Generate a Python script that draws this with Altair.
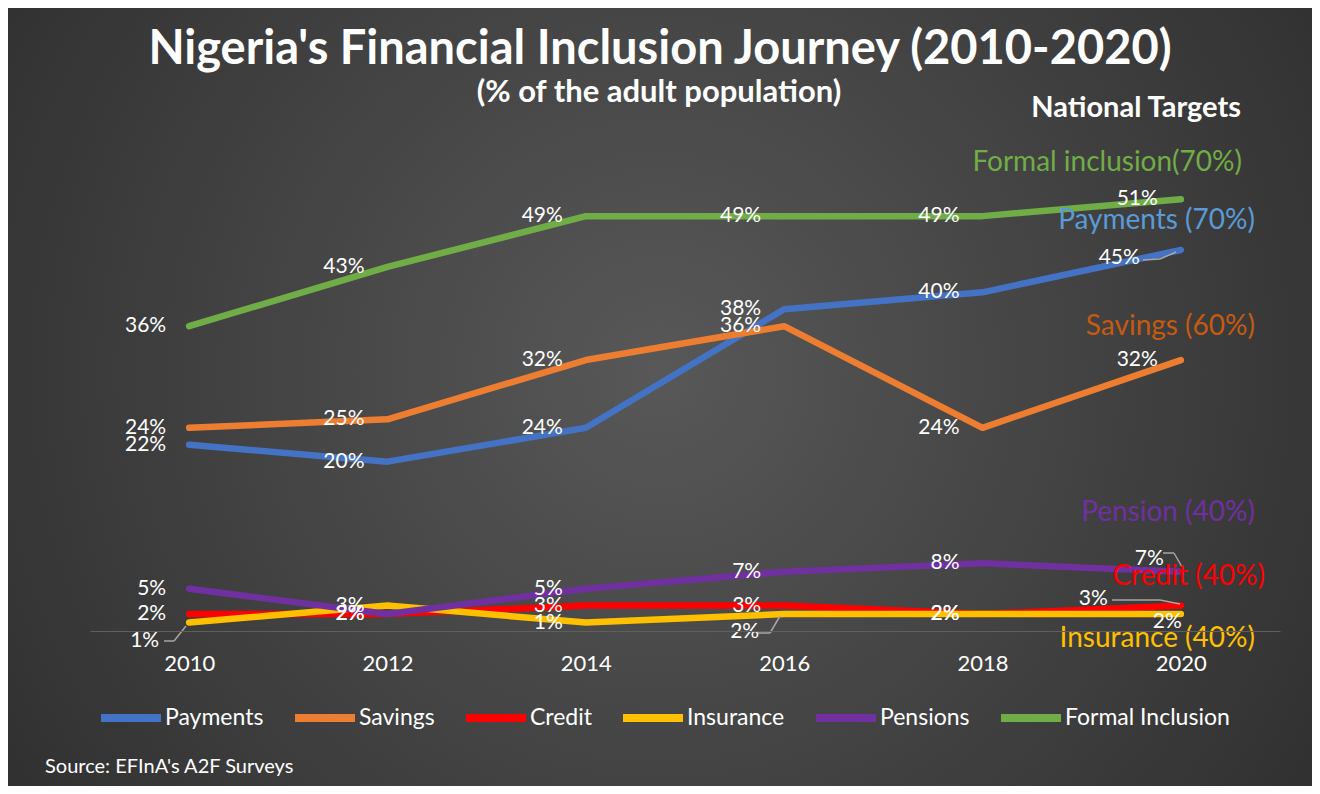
import altair as alt
import pandas as pd

# ---------------- data ----------------
years = [2010, 2012, 2014, 2016, 2018, 2020]
series = ["Payments", "Savings", "Credit", "Insurance", "Pensions", "Formal Inclusion"]
payments = [22, 20, 24, 38, 40, 45]
savings = [24, 25, 32, 36, 24, 32]
credit = [2, 2, 3, 3, 2, 3]
insurance = [1, 3, 1, 2, 2, 2]
pensions = [5, 2, 5, 7, 8, 7]
formal = [36, 43, 49, 49, 49, 51]
values = [payments, savings, credit, insurance, pensions, formal]

colors = ["#4472C4", "#ED7D31", "#FF0000", "#FFC000", "#7030A0", "#70AD47"]

target_texts = ["Formal inclusion(70%)", "Payments (70%)", "Savings (60%)",
                "Pension (40%)", "Credit (40%)", "Insurance (40%)"]
target_colors = ["#70AD47", "#5B9BD5", "#C55A11", "#7030A0", "#FF0000", "#FFC000"]

title_text = "Nigeria's Financial Inclusion Journey (2010-2020)"
subtitle_text = "(% of the adult population)"
targets_heading = "National Targets"
source_text = "Source: EFInA's A2F Surveys"

# label placement (pixel offsets from point), default left of point
DEFAULT_OFF = (-23, 0)
special_off = {
    ("Insurance", 2010): (-30, 18),
    ("Insurance", 2016): (-25, 18),
    ("Pensions", 2020): (-17, -13),
    ("Credit", 2020): (-73, -7),
    ("Insurance", 2020): (1, 8),
    ("Payments", 2020): (-41, 8),
}

FONT = "Lato"
W, H = 1190, 508          # plot area
PAD_L, PAD_T = 82, 115
TOTAL_W, TOTAL_H = 1304, 778

rows = []
for s, vals in zip(series, values):
    for y, v in zip(years, vals):
        dx, dy = special_off.get((s, y), DEFAULT_OFF)
        rows.append({"year": y, "series": s, "value": v, "label": f"{v}%", "dx": dx, "dy": dy})
df = pd.DataFrame(rows)


def px(xr):
    return xr - 8 - PAD_L


def py(yr):
    return yr - 8 - PAD_T


one = pd.DataFrame({"k": [0]})

# background gradient
bg = alt.Chart(one).mark_rect(
    fill={"gradient": "radial",
          "stops": [{"offset": 0, "color": "#585858"}, {"offset": 1, "color": "#262626"}],
          "x1": 0.5, "y1": 0.48, "r1": 0, "x2": 0.5, "y2": 0.48, "r2": 0.75}
).encode(x=alt.value(-PAD_L), x2=alt.value(TOTAL_W - PAD_L),
         y=alt.value(-PAD_T), y2=alt.value(TOTAL_H - PAD_T))

xenc = alt.X("year:O", scale=alt.Scale(type="point", padding=0.5),
             axis=alt.Axis(title=None, labelAngle=0, ticks=False, grid=False,
                           domainColor="#5f5f5f", domainWidth=1,
                           labelColor="white", labelFont=FONT, labelFontSize=22,
                           labelPadding=22, zindex=1))
yenc = alt.Y("value:Q", scale=alt.Scale(domain=[0, 60], nice=False), axis=None)
cenc = alt.Color("series:N", scale=alt.Scale(domain=series, range=colors),
                 legend=alt.Legend(orient="none", legendX=7, legendY=561,
                                   direction="horizontal", title=None,
                                   symbolType="stroke", symbolSize=3600,
                                   symbolStrokeWidth=8, labelColor="white",
                                   labelFont=FONT, labelFontSize=23, labelLimit=400,
                                   labelOffset=0, columnPadding=15, zindex=1))

line_layers = []
for s in series:
    line_layers.append(
        alt.Chart(df[df.series == s]).mark_line(strokeWidth=6.5, strokeCap="round", strokeJoin="round")
        .encode(x=xenc, y=yenc, color=cenc)
    )

label_layers = []
for (dx, dy), sub in df.groupby(["dx", "dy"]):
    label_layers.append(
        alt.Chart(sub).mark_text(align="right", baseline="middle", dx=int(dx), dy=int(dy),
                                 font=FONT, fontSize=21, color="white")
        .encode(x=xenc, y=yenc, text="label:N")
    )


def ann(text, xr, yr, size, color, weight="normal", align="center"):
    return alt.Chart(pd.DataFrame({"t": [text]})).mark_text(
        align=align, baseline="middle", font=FONT, fontSize=size, color=color, fontWeight=weight
    ).encode(x=alt.value(px(xr)), y=alt.value(py(yr)), text="t:N")


anns = [
    ann(title_text, 660, 50, 47, "white", "bold"),
    ann(subtitle_text, 659, 93, 31, "white", "bold"),
    ann(targets_heading, 1241, 108, 29, "white", "bold", "right"),
    ann(source_text, 45, 767, 20, "white", "normal", "left"),
]
t_pos = [(1242, 163), (1255, 221), (1255, 327), (1255, 513), (1265, 577), (1255, 639)]
for t, c, (xr, yr) in zip(target_texts, target_colors, t_pos):
    anns.append(ann(t, xr, yr, 28, c, "normal", "right"))

# leader lines for displaced labels (pixel decorations)
leaders = [
    [(164, 641), (174, 641), (186, 626)],
    [(758, 633), (770, 633), (780, 616)],
    [(1163, 553), (1174, 553), (1182, 567)],
    [(1112, 600), (1160, 600), (1180, 604)],
    [(1143, 260), (1160, 259), (1176, 252)],
]
lead_layers = []
for pts in leaders:
    for (xa, ya), (xb, yb) in zip(pts[:-1], pts[1:]):
        lead_layers.append(
            alt.Chart(one).mark_rule(color="#a6a6a6", strokeWidth=1.5)
            .encode(x=alt.value(px(xa)), x2=alt.value(px(xb)), y=alt.value(py(ya)), y2=alt.value(py(yb)))
        )

chart = alt.layer(bg, *line_layers, *lead_layers, *label_layers, *anns).properties(
    width=W, height=H,
    autosize=alt.AutoSizeParams(type="none"),
    padding={"left": PAD_L, "top": PAD_T, "right": TOTAL_W - PAD_L - W, "bottom": TOTAL_H - PAD_T - H},
    background="#2b2b2b",
).configure_view(stroke=None)

chart.save("out.html", embed_options={"renderer": "svg", "actions": False})
